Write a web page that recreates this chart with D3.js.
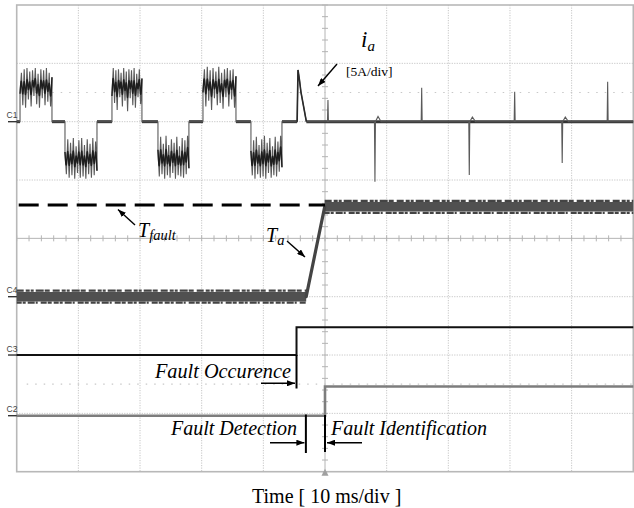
<!DOCTYPE html>
<html>
<head>
<meta charset="utf-8">
<script src="https://cdn.jsdelivr.net/npm/d3@7"></script>
<style>
  html, body { margin: 0; padding: 0; background: #fff; }
  svg { display: block; }
</style>
</head>
<body>
<svg id="chart" width="634" height="508"></svg>
<script>
// ---- time base: 10 ms/div over 10 divisions, trigger at the centre ----
const timeTicks = [-50, -40, -30, -20, -10, 0, 10, 20, 30, 40, 50];
const divTicks = [-4, -3, -2, -1, 0, 1, 2, 3, 4];
const refLevels = [2.5, -2.5];          // faint reference traces (div)

// ---- channel ground markers (div) ----
const channelNames = ["C1", "C4", "C3", "C2"];
const channelOffsets = [2, -1, -2, -3];

// ---- C1: phase current ia, 5 A/div ----
const ampsPerDiv = 5;
const c1PulseStart = [-49.46, -42.17, -34.55, -27.09, -19.79, -12.01];
const c1PulseEnd   = [-44.28, -36.98, -29.69, -22.07, -14.44, -6.98];
const c1PulseSamples = [
  [2.4, 4.2, 1.4, 4.5, 1.2, 4.6, 1.9, 4.3, 1.3, 4.4, 2.2, 4.6, 1.5, 4.1, 1.2, 4.5, 2.0, 4.4, 1.4, 4.6, 1.7, 4.2, 1.3, 3.8],
  [-2.6, -4.5, -1.5, -4.8, -1.8, -4.6, -1.4, -4.9, -2.1, -4.4, -1.6, -4.8, -1.4, -4.7, -2.0, -4.9, -1.5, -4.5, -1.9, -4.8, -1.4, -4.6, -1.7, -4.2],
  [2.2, 4.6, 1.6, 4.4, 1.0, 4.5, 2.1, 4.2, 1.3, 4.6, 1.8, 4.3, 0.9, 4.5, 2.0, 4.4, 1.4, 4.6, 1.2, 4.1, 2.1, 4.5, 1.5, 3.7],
  [-2.4, -4.7, -1.3, -4.5, -1.9, -4.9, -1.2, -4.6, -2.0, -4.8, -1.5, -4.4, -1.8, -4.9, -1.3, -4.6, -2.1, -4.7, -1.4, -4.8, -1.6, -4.5, -1.2, -4.0],
  [2.5, 4.5, 1.3, 4.7, 1.8, 4.4, 1.0, 4.6, 2.0, 4.3, 1.4, 4.7, 1.6, 4.2, 1.1, 4.5, 2.1, 4.6, 1.3, 4.4, 1.9, 4.5, 1.2, 3.9],
  [-2.5, -4.6, -1.6, -4.9, -1.3, -4.5, -2.0, -4.8, -1.5, -4.7, -1.2, -4.9, -1.8, -4.4, -1.4, -4.8, -2.1, -4.6, -1.3, -4.7, -1.7, -4.3, -1.2, -3.9]
];
// transient at the fault instant
const c1FaultTime = [-4.52, -4.38, -4.14, -3.90, -3.02];
const c1FaultAmps = [0, 4.43, 3.57, 2.54, 0];
// commutation spikes once the phase is open
const c1SpikeTime    = [0.48, 8.10, 15.68, 23.40, 30.76, 38.47, 45.84];
const c1SpikeAmps    = [1.86, -5.14, 2.90, -4.57, 2.57, -3.54, 3.43];
const c1SpikeRebound = [0, 0.45, 0, 0.40, 0, 0.40, 0];

// ---- C4: Ta and threshold T_fault (div above C4 ground) ----
const c4Time  = [-50, -3.05, -0.05, 50];
const c4Level = [0, 0, 1.54, 1.54];
const tFaultLevel = 1.57;
const tFaultEnd = 0;

// ---- C3 / C2 logic signals (div above own ground) ----
const c3Time  = [-50, -4.62, 50];
const c3Level = [0, 0.475, 0.475];
const c2Time  = [-50, 0, 50];
const c2Level = [-0.04, 0.46, 0.46];

// ---- event instants (ms) ----
const tOccurrence = -4.62;
const tDetection = -3.10;
const tIdentification = 0;

// ================= drawing =================
const svg = d3.select("#chart");
const x = d3.scaleLinear().domain([-50, 50]).range([16.7, 633.3]);
const y = d3.scaleLinear().domain([-4, 4]).range([471.7, 5]);
const [x0, x1] = x.range();
const [yb, yt] = y.range();

const defs = svg.append("defs");
defs.append("marker")
  .attr("id", "head").attr("viewBox", "0 0 8 6")
  .attr("refX", 8).attr("refY", 3)
  .attr("markerWidth", 8).attr("markerHeight", 6)
  .attr("markerUnits", "userSpaceOnUse").attr("orient", "auto")
  .append("path").attr("d", "M0,0 L8,3 L0,6 Z").attr("fill", "#000");

// grid
const grid = svg.append("g");
grid.selectAll("line.v").data(timeTicks.slice(1, -1)).join("line")
  .attr("x1", d => x(d)).attr("x2", d => x(d)).attr("y1", yt).attr("y2", yb)
  .attr("stroke", d => d === 0 ? "#b4b4b4" : "#c6c6c6")
  .attr("stroke-width", 1)
  .attr("stroke-dasharray", d => d === 0 ? null : "1.2,1.3");
grid.selectAll("line.h").data(divTicks.slice(1, -1)).join("line")
  .attr("x1", x0).attr("x2", x1).attr("y1", d => y(d)).attr("y2", d => y(d))
  .attr("stroke", d => d === 0 ? "#b4b4b4" : "#c6c6c6")
  .attr("stroke-width", 1)
  .attr("stroke-dasharray", d => d === 0 ? null : "1.2,1.3");
// minor ticks on the centre axes
grid.selectAll("line.tx").data(d3.range(-50, 50.01, 2)).join("line")
  .attr("x1", d => x(d)).attr("x2", d => x(d))
  .attr("y1", y(0) - 3).attr("y2", y(0) + 3)
  .attr("stroke", "#b4b4b4").attr("stroke-width", 1);
grid.selectAll("line.ty").data(d3.range(-4, 4.01, 0.2)).join("line")
  .attr("x1", x(0) - 3).attr("x2", x(0) + 3)
  .attr("y1", d => y(d)).attr("y2", d => y(d))
  .attr("stroke", "#b4b4b4").attr("stroke-width", 1);
// faint reference traces
grid.selectAll("line.ref").data(refLevels).join("line")
  .attr("x1", x0 + 10).attr("x2", x1).attr("y1", d => y(d)).attr("y2", d => y(d))
  .attr("stroke", "#c8c8c8").attr("stroke-width", 1.2)
  .attr("stroke-dasharray", "1.5,7");
// frame
svg.append("rect")
  .attr("x", x0).attr("y", yt).attr("width", x1 - x0).attr("height", yb - yt)
  .attr("fill", "none").attr("stroke", "#b8b8b8").attr("stroke-width", 1.6);
// trigger marker
svg.append("path")
  .attr("d", `M${x(0)},${yb - 3} L${x(0) - 3.5},${yb + 4} L${x(0) + 3.5},${yb + 4} Z`)
  .attr("fill", "#a0a0a0");

// channel ground markers
const firstLevel = [0, c4Level[0], c3Level[0], c2Level[0]];
const chg = svg.append("g");
channelNames.forEach((name, i) => {
  const yy = y(channelOffsets[i] + firstLevel[i]);
  chg.append("line").attr("x1", 8).attr("x2", x0 + 1).attr("y1", yy).attr("y2", yy)
    .attr("stroke", "#333").attr("stroke-width", 1.4);
  chg.append("text").attr("x", 6.5).attr("y", yy - 3.5)
    .attr("font-family", "Liberation Sans, Arial, sans-serif")
    .attr("font-size", 8.5).attr("fill", "#444").text(name);
});

// ---- C1 trace ----
const c1y = a => y(channelOffsets[0] + a / ampsPerDiv);
const line = d3.line().x(d => x(d[0])).y(d => c1y(d[1]));
const c1Pts = [[-50, 0]];
c1PulseStart.forEach((s, i) => {
  const e = c1PulseEnd[i], vals = c1PulseSamples[i];
  c1Pts.push([s, 0]);
  vals.forEach((v, k) => c1Pts.push([s + (e - s) * k / (vals.length - 1), v]));
  c1Pts.push([e, 0]);
});
c1FaultTime.forEach((t, i) => c1Pts.push([t, c1FaultAmps[i]]));
c1SpikeTime.forEach((t, i) => {
  c1Pts.push([t - 0.08, 0], [t, c1SpikeAmps[i]], [t + 0.08, 0]);
  if (c1SpikeRebound[i]) c1Pts.push([t + 0.5, c1SpikeRebound[i]], [t + 1.0, 0]);
});
c1Pts.push([50, 0]);

// zero-level stretches drawn heavier
const zeroRuns = [[-50, c1PulseStart[0]]];
c1PulseEnd.forEach((e, i) => zeroRuns.push([e, i + 1 < c1PulseStart.length ? c1PulseStart[i + 1] : c1FaultTime[0]]));
zeroRuns.push([c1FaultTime[c1FaultTime.length - 1], 50]);
svg.append("g").selectAll("path").data(zeroRuns).join("path")
  .attr("d", d => line([[d[0], 0], [d[1], 0]]))
  .attr("stroke", "#333").attr("stroke-width", 3).attr("fill", "none");

svg.append("path").attr("d", line(c1Pts))
  .attr("fill", "none").attr("stroke", "#5a5a5a").attr("stroke-width", 1.1);
// darker running trace through each ripple packet
c1PulseStart.forEach((s, i) => {
  const e = c1PulseEnd[i], vals = c1PulseSamples[i];
  const pts = vals.map((v, k) => [s + (e - s) * k / (vals.length - 1), v]);
  svg.append("path").attr("d", d3.line().curve(d3.curveBasis).x(d => x(d[0])).y(d => c1y(d[1]))(pts))
    .attr("fill", "none").attr("stroke", "#1e1e1e").attr("stroke-width", 1.4);
});
svg.append("path").attr("d", line(c1FaultTime.map((t, i) => [t, c1FaultAmps[i]])))
  .attr("fill", "none").attr("stroke", "#2a2a2a").attr("stroke-width", 1.6);

// ---- C4 trace (Ta) ----
const c4y = v => y(channelOffsets[1] + v);
const c4line = d3.line().x(d => x(d[0])).y(d => c4y(d[1]));
const lowBand = [[c4Time[0], c4Level[0]], [c4Time[1], c4Level[1]]];
const highBand = [[c4Time[2], c4Level[2]], [c4Time[3], c4Level[3]]];
const ramp = [[c4Time[1], c4Level[1]], [c4Time[2], c4Level[2]]];
[lowBand, highBand].forEach(seg => {
  svg.append("path").attr("d", c4line(seg)).attr("stroke", "#505050")
    .attr("stroke-width", 9.5).attr("fill", "none");
  [-6, 6].forEach((off, j) => {
    svg.append("path").attr("d", c4line(seg)).attr("transform", `translate(0,${off})`)
      .attr("stroke", "#444").attr("stroke-width", 2.2).attr("fill", "none")
      .attr("stroke-dasharray", j ? "5,1,3,2,7,1,2,3,6,1,4,2" : "7,2,4,1,3,2,8,1,5,3");
  });
});
svg.append("path").attr("d", c4line(ramp)).attr("stroke", "#444")
  .attr("stroke-width", 3.2).attr("fill", "none").attr("stroke-linecap", "round");

// T_fault threshold
svg.append("line")
  .attr("x1", x(-50) + 2).attr("x2", x(tFaultEnd))
  .attr("y1", c4y(tFaultLevel)).attr("y2", c4y(tFaultLevel))
  .attr("stroke", "#000").attr("stroke-width", 3).attr("stroke-dasharray", "20,9");

// ---- C3 / C2 ----
const c3line = d3.line().curve(d3.curveStepAfter).x(d => x(d[0])).y(d => y(channelOffsets[2] + d[1]));
svg.append("path").attr("d", c3line(c3Time.map((t, i) => [t, c3Level[i]])))
  .attr("fill", "none").attr("stroke", "#111").attr("stroke-width", 2);
const c2line = d3.line().curve(d3.curveStepAfter).x(d => x(d[0])).y(d => y(channelOffsets[3] + d[1]));
svg.append("path").attr("d", c2line(c2Time.map((t, i) => [t, c2Level[i]])))
  .attr("fill", "none").attr("stroke", "#7d7d7d").attr("stroke-width", 2.6);

// ---- annotations ----
const serif = "Liberation Serif, Times New Roman, serif";
const ann = svg.append("g").attr("font-family", serif).attr("fill", "#000");
function arrow(xa, ya, xb, yb2, w) {
  ann.append("line").attr("x1", xa).attr("y1", ya).attr("x2", xb).attr("y2", yb2)
    .attr("stroke", "#000").attr("stroke-width", w || 1.4).attr("marker-end", "url(#head)");
}
// ia
const ia = ann.append("text").attr("x", 361).attr("y", 47).attr("font-style", "italic").attr("font-size", 23);
ia.append("tspan").text("i");
ia.append("tspan").attr("font-size", 15).attr("dy", 4).text("a");
ann.append("text").attr("x", 346).attr("y", 75.5).attr("font-size", 13.5).text("[5A/div]");
arrow(337, 64, 318, 86);
// T_fault
const tf = ann.append("text").attr("x", 138).attr("y", 237).attr("font-style", "italic").attr("font-size", 20);
tf.append("tspan").text("T");
tf.append("tspan").attr("font-size", 14.5).attr("dy", 2.5).text("fault");
arrow(135, 225, 118, 209.5);
// T_a
const ta = ann.append("text").attr("x", 266).attr("y", 242).attr("font-style", "italic").attr("font-size", 20);
ta.append("tspan").text("T");
ta.append("tspan").attr("font-size", 14.5).attr("dy", 3).text("a");
arrow(287, 241, 305, 257);

// event markers
const xOcc = x(tOccurrence), xDet = x(tDetection), xId = x(tIdentification);
ann.append("line").attr("x1", xOcc).attr("x2", xOcc)
  .attr("y1", y(channelOffsets[2])).attr("y2", 388.5).attr("stroke", "#000").attr("stroke-width", 2);
ann.append("text").attr("x", 291).attr("y", 378).attr("text-anchor", "end")
  .attr("font-style", "italic").attr("font-size", 20.3).text("Fault Occurence");
arrow(261, 383.3, xOcc - 1.5, 383.3);

ann.append("line").attr("x1", xDet).attr("x2", xDet)
  .attr("y1", 414.5).attr("y2", 453).attr("stroke", "#000").attr("stroke-width", 2);
ann.append("text").attr("x", 297).attr("y", 435).attr("text-anchor", "end")
  .attr("font-style", "italic").attr("font-size", 20).text("Fault Detection");
arrow(270, 442.7, xDet - 1.5, 442.7);

ann.append("line").attr("x1", xId).attr("x2", xId)
  .attr("y1", 415).attr("y2", 452).attr("stroke", "#000").attr("stroke-width", 2);
ann.append("text").attr("x", 331).attr("y", 435)
  .attr("font-style", "italic").attr("font-size", 20).text("Fault Identification");
arrow(362, 442.7, xId + 2, 442.7);

// time axis caption
ann.append("text").attr("x", 326.7).attr("y", 503).attr("text-anchor", "middle")
  .attr("font-size", 20).text("Time [ 10 ms/div ]");
</script>
</body>
</html>
